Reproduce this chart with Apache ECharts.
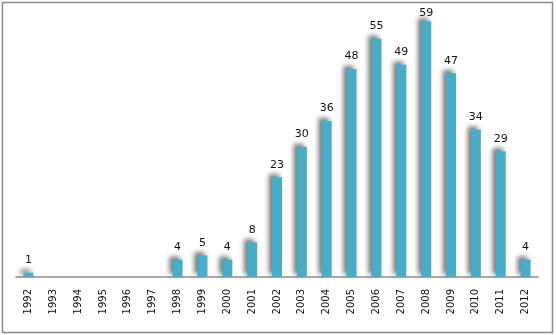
<!DOCTYPE html>
<html>
<head>
<meta charset="utf-8">
<script src="https://cdn.jsdelivr.net/npm/echarts@6/dist/echarts.min.js"></script>
<style>
  html, body { margin: 0; padding: 0; background: #fff; }
  #chart { width: 556px; height: 335px; }
</style>
</head>
<body>
<div id="chart"></div>
<script>
// Yearly counts, 1992–2012
var years = ['1992', '1993', '1994', '1995', '1996', '1997', '1998', '1999', '2000', '2001',
             '2002', '2003', '2004', '2005', '2006', '2007', '2008', '2009', '2010', '2011', '2012'];
var counts = [1, 0, 0, 0, 0, 0, 4, 5, 4, 8, 23, 30, 36, 48, 55, 49, 59, 47, 34, 29, 4];

var peak = Math.max.apply(null, counts);

// The tallest bar's label sits tighter so it stays inside the frame
var barData = counts.map(function (v) {
  return v === peak ? { value: v, label: { distance: 3 } } : v;
});

var chart = echarts.init(document.getElementById('chart'), null, { renderer: 'canvas' });

chart.setOption({
  animation: false,
  backgroundColor: '#ffffff',
  graphic: [{
    type: 'rect',
    shape: { x: 2.5, y: 2.5, width: 550, height: 330 },
    style: { fill: 'none', stroke: '#8c8c8c', lineWidth: 1.5 },
    silent: true
  }],
  grid: { left: 16, right: 18, top: 17, bottom: 58 },
  xAxis: {
    type: 'category',
    data: years,
    axisLine: { lineStyle: { color: '#8c8c8c', width: 1.5 } },
    axisTick: { show: false },
    axisLabel: {
      rotate: 90,
      margin: 12,
      color: '#111',
      fontFamily: 'DejaVu Sans',
      fontSize: 10,
      interval: 0
    }
  },
  yAxis: {
    type: 'value',
    min: 0,
    max: 60,
    show: false,
    splitLine: { show: false }
  },
  series: [{
    type: 'bar',
    data: barData,
    barWidth: 10,
    itemStyle: {
      color: '#4bacc6',
      shadowColor: 'rgba(0,0,0,0.55)',
      shadowBlur: 5,
      shadowOffsetX: -3,
      shadowOffsetY: -3
    },
    label: {
      show: true,
      position: 'top',
      distance: 7,
      color: '#111',
      fontFamily: 'DejaVu Sans',
      fontSize: 11,
      formatter: function (p) { return p.value > 0 ? String(p.value) : ''; }
    }
  }]
});
</script>
</body>
</html>
